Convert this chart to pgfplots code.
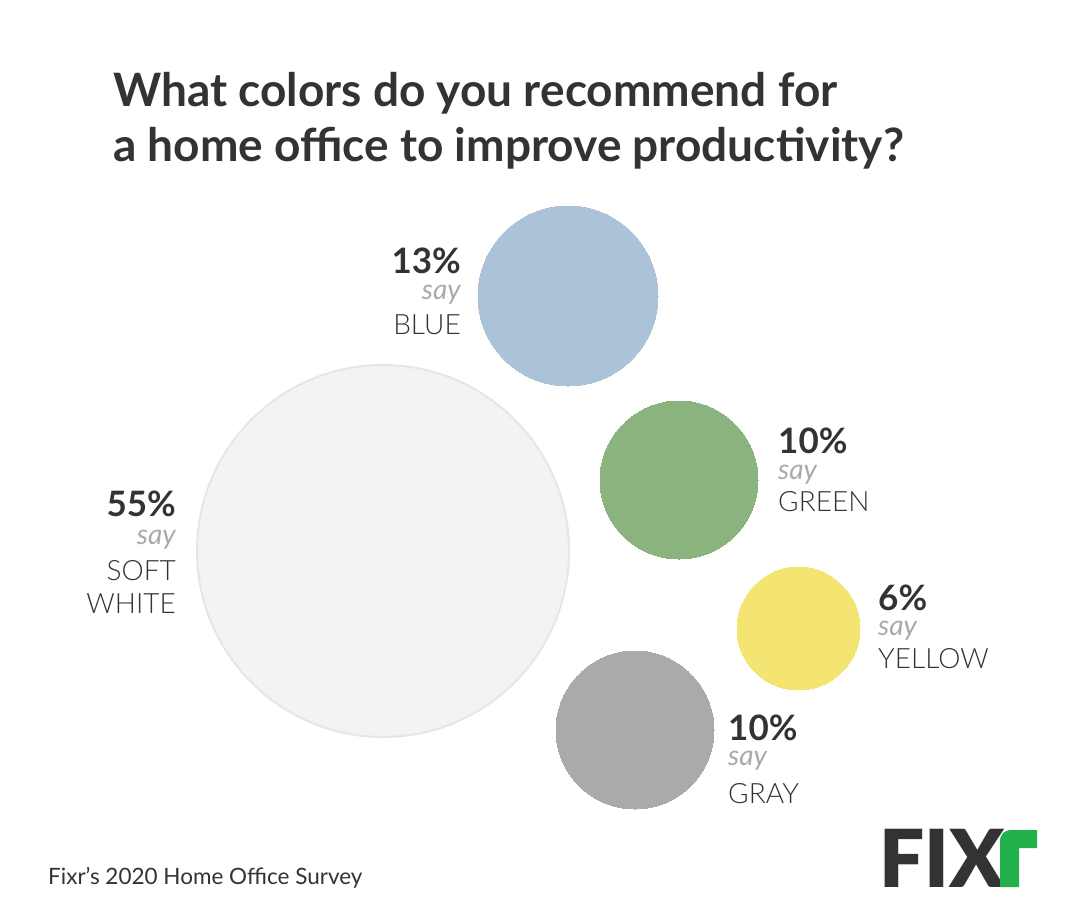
\documentclass[border=0pt]{standalone}
\usepackage{fontspec}
\usepackage{pgfplots}
\pgfplotsset{compat=1.18}
\setmainfont{Lato}
\newfontfamily\latolight{Lato Light}
\newfontfamily\latoblack{Lato Black}

\definecolor{txt}{HTML}{333333}
\definecolor{saygray}{HTML}{AAAAAA}
\definecolor{cblue}{HTML}{ABC2D7}
\definecolor{cgreen}{HTML}{8AB37E}
\definecolor{cyellow}{HTML}{F4E573}
\definecolor{cgray}{HTML}{AAAAAA}
\definecolor{csoft}{HTML}{F2F3F2}
\definecolor{csoftline}{HTML}{E6E6E6}
\definecolor{fixrgreen}{HTML}{22B04B}

% label block: percent / say / colour name
\newcommand{\pct}[1]{{\fontsize{35}{35}\selectfont\bfseries #1}}
\newcommand{\say}{{\fontsize{28}{28}\selectfont\itshape\color{saygray} say}}
\newcommand{\cname}[1]{{\fontsize{28}{28}\selectfont\latolight #1}}

\begin{document}
\begin{tikzpicture}
\begin{axis}[
  scale only axis,
  width=1084pt, height=923pt,
  xmin=0, xmax=1084, ymin=0, ymax=923,
  y dir=reverse,
  hide axis, clip=false,
  every axis plot/.append style={only marks, mark=*},
]
\fill[white] (axis cs:0,0) rectangle (axis cs:1084,923);

% bubbles: centre in px, mark size = radius
\addplot[color=csoftline, mark size=186pt, mark options={fill=csoft, draw=csoftline, line width=2pt}]
  coordinates {(383,551)};
\addplot[color=cblue, mark size=90pt, mark options={fill=cblue, draw=cblue, line width=0pt}]
  coordinates {(568,296)};
\addplot[color=cgreen, mark size=79pt, mark options={fill=cgreen, draw=cgreen, line width=0pt}]
  coordinates {(679,480)};
\addplot[color=cyellow, mark size=61.5pt, mark options={fill=cyellow, draw=cyellow, line width=0pt}]
  coordinates {(798.5,628.5)};
\addplot[color=cgray, mark size=79pt, mark options={fill=cgray, draw=cgray, line width=0pt}]
  coordinates {(635,730)};

% title
\node[anchor=base west, text=txt, font=\fontsize{46}{46}\selectfont\bfseries, inner sep=0pt]
  at (axis cs:113,107) {What colors do you recommend for};
\node[anchor=base west, text=txt, font=\fontsize{46}{46}\selectfont\bfseries, inner sep=0pt]
  at (axis cs:113,161) {a home office to improve productivity?};

% labels
\begin{scope}[every node/.style={text=txt, inner sep=0pt}]
\node[anchor=base east] at (axis cs:461,273) {\pct{13\%}};
\node[anchor=base east] at (axis cs:461,299) {\say};
\node[anchor=base east] at (axis cs:461,334) {\cname{BLUE}};

\node[anchor=base east] at (axis cs:176,516) {\pct{55\%}};
\node[anchor=base east] at (axis cs:176,544) {\say};
\node[anchor=base east] at (axis cs:176,580) {\cname{SOFT}};
\node[anchor=base east] at (axis cs:176,613) {\cname{WHITE}};

\node[anchor=base west] at (axis cs:778,453) {\pct{10\%}};
\node[anchor=base west] at (axis cs:778,479) {\say};
\node[anchor=base west] at (axis cs:778,511) {\cname{GREEN}};

\node[anchor=base west] at (axis cs:878,610) {\pct{6\%}};
\node[anchor=base west] at (axis cs:878,635) {\say};
\node[anchor=base west] at (axis cs:878,668) {\cname{YELLOW}};

\node[anchor=base west] at (axis cs:728,740) {\pct{10\%}};
\node[anchor=base west] at (axis cs:728,765) {\say};
\node[anchor=base west] at (axis cs:728,803) {\cname{GRAY}};
\end{scope}

% footer
\node[anchor=base west, text=txt, inner sep=0pt, font=\fontsize{22.5}{22.5}\selectfont]
  at (axis cs:48,884) {Fixr’s 2020 Home Office Survey};

% logo
\node[anchor=base west, text=txt, inner sep=0pt, font=\fontsize{80}{80}\selectfont\latoblack]
  at (axis cs:879,887) {FIX};
\fill[fixrgreen] (axis cs:1000,887) -- (axis cs:1000,842)
  .. controls (axis cs:1000,834) and (axis cs:1004,830) .. (axis cs:1012,830)
  -- (axis cs:1037,830) -- (axis cs:1037,848) -- (axis cs:1019,848)
  -- (axis cs:1019,887) -- cycle;
\end{axis}
\end{tikzpicture}
\end{document}
